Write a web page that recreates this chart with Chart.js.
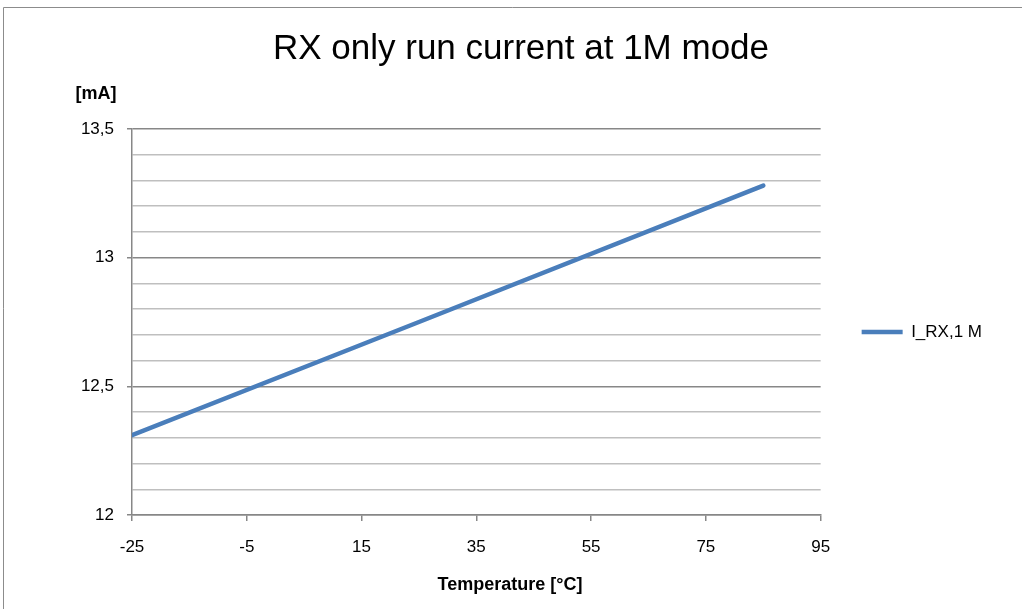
<!DOCTYPE html>
<html>
<head>
<meta charset="utf-8">
<script src="https://cdn.jsdelivr.net/npm/chart.js@4.4.1/dist/chart.umd.min.js"></script>
<style>
html,body{margin:0;padding:0;background:#fff;}
#wrap{width:1022px;height:609px;position:relative;}
</style>
</head>
<body>
<div id="wrap"><canvas id="c" width="1022" height="609"></canvas></div>
<script>
const chartTitle = 'RX only run current at 1M mode';
const seriesLabel = 'I_RX,1 M';
const temperatures = [-25, 25, 85];
const currents = [12.31, 12.75, 13.28];
const xTickValues = [-25, -5, 15, 35, 55, 75, 95];
const yMin = 12, yMax = 13.5, yMinorStep = 0.1, yMajorStep = 0.5;
const yAxisTitle = '[mA]';
const xAxisTitle = 'Temperature [°C]';

const FONT = "'Liberation Sans', Arial, sans-serif";
const lineColor = '#4a7ebb';
const majorGrid = '#878787';
const minorGrid = '#bfbfbf';

function isMajor(v){ return Math.abs(v/yMajorStep - Math.round(v/yMajorStep)) < 1e-6; }
function fmt(v){ let s = (Math.round(v*10)/10).toString(); return s.replace('.', ','); }

const decor = {
  id: 'decor',
  beforeDraw(chart){
    const ctx = chart.ctx;
    ctx.save();
    ctx.fillStyle = '#fff';
    ctx.fillRect(0,0,chart.width,chart.height);
    ctx.strokeStyle = '#8c8c8c';
    ctx.lineWidth = 1;
    ctx.beginPath();
    ctx.moveTo(3.5, chart.height);
    ctx.lineTo(3.5, 7.5);
    ctx.lineTo(chart.width, 7.5);
    ctx.stroke();
    ctx.restore();
  },
  afterDraw(chart){
    const ctx = chart.ctx;
    ctx.save();
    ctx.fillStyle = '#000';
    ctx.font = "bold 18px " + FONT;
    ctx.textAlign = 'center';
    ctx.textBaseline = 'middle';
    // y axis title, horizontal above the axis
    ctx.fillText(yAxisTitle, 96, 94);
    // x axis title
    ctx.fillText(xAxisTitle, 510, 585);
    ctx.restore();
  }
};

new Chart(document.getElementById('c'), {
  type: 'line',
  data: {
    datasets: [{
      label: seriesLabel,
      data: temperatures.map((t, i) => ({x: t, y: currents[i]})),
      borderColor: lineColor,
      backgroundColor: lineColor,
      borderWidth: 4.5,
      borderCapStyle: 'round',
      pointRadius: 0,
      pointStyle: 'line',
      tension: 0,
      fill: false
    }]
  },
  options: {
    responsive: false,
    animation: false,
    layout: { padding: { left: 50, right: 30, top: 0, bottom: 0 } },
    plugins: {
      legend: {
        display: true,
        position: 'right',
        align: 'center',
        title: { display: true, text: ' ', font: { family: FONT, size: 20, lineHeight: 1 }, padding: { top: 35, bottom: 0 } },
        labels: {
          usePointStyle: true,
          pointStyle: 'line',
          pointStyleWidth: 41,
          boxHeight: 17,
          padding: 41,
          color: '#000',
          font: { family: FONT, size: 17 }
        }
      },
      tooltip: { enabled: false },
      title: {
        display: true,
        text: chartTitle,
        color: '#000',
        font: { family: FONT, size: 35, weight: 'normal', lineHeight: 1.2 },
        padding: { top: 28, bottom: 59 }
      }
    },
    scales: {
      x: {
        type: 'linear',
        min: -25, max: 95,
        afterBuildTicks(scale){ scale.ticks = xTickValues.map(v => ({value: v})); },
        afterFit(scale){ scale.height = 94; },
        grid: { drawOnChartArea: false, drawTicks: true, tickLength: 6, color: majorGrid, tickColor: majorGrid, lineWidth: 1.5 },
        border: { color: majorGrid, width: 1.5 },
        ticks: { color: '#000', font: { family: FONT, size: 17 }, padding: 16, maxRotation: 0, autoSkip: false,
          callback: (v) => String(v) },
        title: { display: false }
      },
      y: {
        type: 'linear',
        min: yMin, max: yMax,
        afterBuildTicks(scale){
          const t = [];
          const n = Math.round((yMax - yMin)/yMinorStep);
          for (let i = 0; i <= n; i++) t.push({value: +(yMin + i*yMinorStep).toFixed(4)});
          scale.ticks = t;
        },
        afterFit(scale){ scale.width = 82; },
        grid: {
          drawOnChartArea: true, drawTicks: true, tickLength: 5,
          color: (c) => isMajor(c.tick.value) ? majorGrid : minorGrid,
          tickColor: (c) => isMajor(c.tick.value) ? majorGrid : 'rgba(0,0,0,0)',
          lineWidth: 1.5
        },
        border: { color: majorGrid, width: 1.5 },
        ticks: { color: '#000', font: { family: FONT, size: 17 }, padding: 13, autoSkip: false,
          callback: (v) => isMajor(v) ? fmt(v) : '' }
      }
    }
  },
  plugins: [decor]
});
</script>
</body>
</html>
